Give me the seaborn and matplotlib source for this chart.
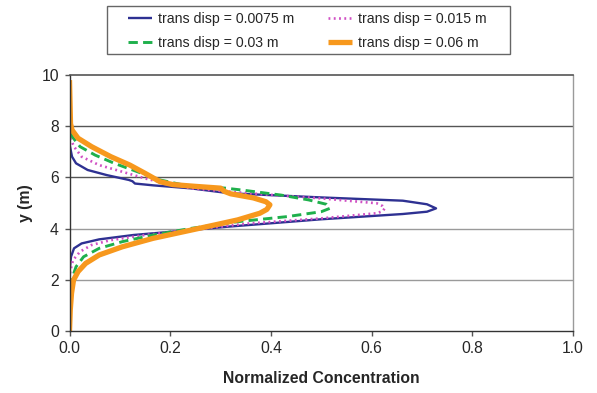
import numpy as np
import pandas as pd
import matplotlib
matplotlib.use("Agg")
import matplotlib.pyplot as plt
from matplotlib.patches import Rectangle
import seaborn as sns

# Normalized concentration profiles versus depth y, one per transverse dispersivity
y_0075 = [10, 7.3, 6.81, 6.55, 6.29, 6.09, 5.9, 5.85, 5.76, 5.69, 5.57, 5.38, 5.22,
          5.09, 4.95, 4.79, 4.66, 4.57, 4.36, 4.27, 4.08, 3.88, 3.75, 3.58, 3.42,
          3.23, 2.9, 2.5, 2.2, 0]
c_0075 = [0, 0, 0.005, 0.013, 0.036, 0.074, 0.118, 0.125, 0.13, 0.166, 0.242, 0.318, 0.497,
          0.662, 0.71, 0.728, 0.71, 0.662, 0.497, 0.44, 0.318, 0.204, 0.127, 0.059, 0.024,
          0.009, 0.003, 0.001, 0, 0]

y_015 = [10, 7.6, 7.2, 6.81, 6.48, 6.22, 5.96, 5.77, 5.57, 5.38, 5.18, 4.99, 4.88,
         4.79, 4.68, 4.6, 4.4, 4.2, 3.95, 3.75, 3.55, 3.36, 3.1, 2.77, 2.38, 2.1, 0]
c_015 = [0, 0, 0.009, 0.024, 0.059, 0.105, 0.15, 0.19, 0.242, 0.356, 0.5, 0.61, 0.622,
         0.626, 0.622, 0.61, 0.5, 0.356, 0.242, 0.15, 0.082, 0.044, 0.021, 0.007, 0.002, 0, 0]

y_03 = [10, 8.0, 7.6, 7.2, 6.87, 6.55, 6.22, 5.9, 5.7, 5.58, 5.5, 5.31, 5.12, 4.95,
        4.79, 4.66, 4.47, 4.27, 4.01, 3.75, 3.49, 3.23, 2.9, 2.51, 1.99, 1.7, 0]
c_03 = [0, 0, 0.005, 0.021, 0.051, 0.089, 0.135, 0.18, 0.227, 0.31, 0.345, 0.42, 0.475, 0.51,
        0.517, 0.50, 0.433, 0.334, 0.242, 0.166, 0.105, 0.059, 0.028, 0.013, 0.004, 0, 0]

y_06 = [9.8, 8.1, 7.85, 7.53, 7.2, 6.81, 6.48, 6.16, 5.83, 5.72, 5.65, 5.58, 5.45, 5.36,
        5.2, 5.05, 4.93, 4.75, 4.6, 4.34, 4.14, 3.88, 3.62, 3.29, 2.97, 2.64, 2.32,
        1.99, 1.47, 0.82, 0]
c_06 = [0, 0.002, 0.005, 0.017, 0.044, 0.082, 0.12, 0.15, 0.18, 0.205, 0.25, 0.30, 0.308, 0.32,
        0.365, 0.39, 0.398, 0.392, 0.378, 0.334, 0.288, 0.227, 0.166, 0.105, 0.059, 0.032, 0.017,
        0.008, 0.004, 0.0015, 0]

labels = ["trans disp = 0.0075 m", "trans disp = 0.015 m",
          "trans disp = 0.03 m", "trans disp = 0.06 m"]
x_ticks = [0.0, 0.2, 0.4, 0.6, 0.8, 1.0]
y_ticks = [0, 2, 4, 6, 8, 10]

series = [(y_0075, c_0075), (y_015, c_015), (y_03, c_03), (y_06, c_06)]
styles = [
    dict(color="#2E3192", lw=1.7, ls="-"),
    dict(color="#D050C4", lw=1.9, ls=(0, (0.7, 1.3))),
    dict(color="#1FB04C", lw=2.1, ls=(0, (3.2, 1.8))),
    dict(color="#F7981D", lw=3.8, ls="-"),
]

sns.set_theme(style="white")
plt.rcParams["font.family"] = ["Liberation Sans", "DejaVu Sans"]

W, H = 597, 393
fig = plt.figure(figsize=(W / 100, H / 100), dpi=100)
ax = fig.add_axes([69.5 / W, 1 - 331 / H, (573 - 69.5) / W, (331 - 75) / H])

for (yy, cc), lab, st in zip(series, labels, styles):
    df = pd.DataFrame({"conc": cc, "y": yy})
    sns.lineplot(data=df, x="conc", y="y", sort=False, estimator=None,
                 orient="y", ax=ax, color=st["color"], linewidth=st["lw"],
                 label=lab, legend=False)

lines = ax.get_lines()
for ln, st in zip(lines, styles):
    ln.set_linestyle(st["ls"])
    ln.set_solid_joinstyle("round")
    ln.set_solid_capstyle("butt")

ax.set_xlim(0, 1.0)
ax.set_ylim(0, 10)
ax.set_xticks(x_ticks)
ax.set_xticklabels([f"{v:.1f}" for v in x_ticks])
ax.set_yticks(y_ticks)
ax.set_yticklabels([str(v) for v in y_ticks])

grid_col = {2: "#9a9a9a", 4: "#9a9a9a", 6: "#555555", 8: "#555555"}
for yv, col in grid_col.items():
    ax.axhline(yv, color=col, lw=1.0, zorder=0)

for side in ["left", "bottom"]:
    ax.spines[side].set_color("#333333")
    ax.spines[side].set_linewidth(1.0)
ax.spines["top"].set_color("#555555")
ax.spines["top"].set_linewidth(1.2)
ax.spines["right"].set_color("#9a9a9a")
ax.spines["right"].set_linewidth(1.0)

ax.tick_params(axis="both", which="major", direction="out", length=3.6, width=1,
               color="#555555", labelsize=11.3, left=True, bottom=True)
ax.tick_params(axis="x", pad=3.5)
ax.tick_params(axis="y", pad=4)
ax.set_xlabel("Normalized Concentration", fontsize=11.3, fontweight="bold", labelpad=11)
ax.set_ylabel("y (m)", fontsize=11.3, fontweight="bold", labelpad=6)

# Legend box drawn in figure pixels, entries laid out inside it
fig.patches.append(Rectangle((107 / W, 1 - 54 / H), (510 - 107) / W, (54 - 6) / H,
                             transform=fig.transFigure, fill=True, facecolor="white",
                             edgecolor="#666666", lw=1.0, zorder=0))
order = [0, 2, 1, 3]
leg = fig.legend([lines[i] for i in order], [labels[i] for i in order],
                 ncol=2, loc="upper left", bbox_to_anchor=(128 / W, 1 - 12 / H),
                 frameon=False, fontsize=10.2, handlelength=1.7, borderpad=0,
                 borderaxespad=0, columnspacing=2.4, labelspacing=0.7,
                 handletextpad=0.42)

fig.savefig("out.png", dpi=100)
